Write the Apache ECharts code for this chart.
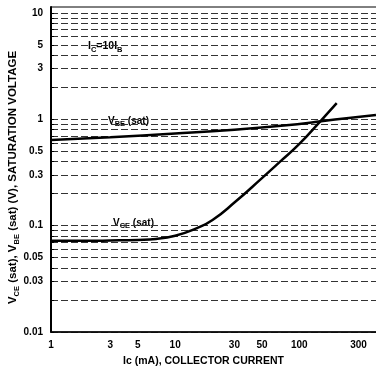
<!DOCTYPE html>
<html>
<head>
<meta charset="utf-8">
<script src="https://cdn.jsdelivr.net/npm/echarts@6/dist/echarts.min.js"></script>
<style>
html,body{margin:0;padding:0;background:#fff;}
#chart{width:376px;height:380px;}
</style>
</head>
<body>
<div id="chart"></div>
<script>
// tick labels
var xLabels = [1, 3, 5, 10, 30, 50, 100, 300];
var yLabels = [0.01, 0.03, 0.05, 0.1, 0.3, 0.5, 1, 3, 5, 10];
// horizontal grid lines (log grid 1..9 per decade)
var yGrid = [0.01, 0.02, 0.03, 0.04, 0.05, 0.06, 0.07, 0.08, 0.09,
             0.1, 0.2, 0.3, 0.4, 0.5, 0.6, 0.7, 0.8, 0.9,
             1, 2, 3, 4, 5, 6, 7, 8, 9, 10];

// VBE (sat) curve
var icVbe = [1, 3, 10, 30, 100, 150, 250, 414];
var vbe = [0.64, 0.68, 0.735, 0.80, 0.905, 0.96, 1.03, 1.10];

// VCE (sat) curve
var icVce = [1, 2, 3, 5, 7, 10, 15, 20, 30, 50, 70, 100, 150, 200];
var vce = [0.072, 0.072, 0.0725, 0.0735, 0.075, 0.0805, 0.095, 0.113, 0.165, 0.28, 0.40, 0.587, 0.98, 1.42];

function pairs(xs, ys) {
    var out = [];
    for (var i = 0; i < xs.length; i++) out.push([xs[i], ys[i]]);
    return out;
}

var font = 'Liberation Sans, Arial, sans-serif';
var sub = { fontSize: 7.5, fontWeight: 'bold', fontFamily: font, color: '#000', verticalAlign: 'bottom', padding: [0, 0, -2, 0] };

var chart = echarts.init(document.getElementById('chart'));
chart.setOption({
    backgroundColor: '#fff',
    animation: false,
    grid: {
        left: 51, right: -2, top: 7, bottom: 48,
        outerBoundsMode: 'none',
        show: true, borderColor: '#000', borderWidth: 1
    },
    xAxis: {
        type: 'log',
        min: 1,
        max: 430,
        name: 'Ic (mA), COLLECTOR CURRENT',
        nameLocation: 'middle',
        nameGap: 24,
        nameMoveOverlap: false,
        nameTextStyle: { fontSize: 10.5, fontWeight: 'bold', fontFamily: font, color: '#000', padding: [0, 22, 0, 0] },
        axisLine: { lineStyle: { color: '#000', width: 1.5 } },
        axisTick: { show: false },
        splitLine: { show: false },
        axisLabel: {
            customValues: xLabels,
            color: '#000', fontSize: 10, fontWeight: 'bold', fontFamily: font, margin: 8
        }
    },
    yAxis: {
        type: 'log',
        min: 0.01,
        max: 11.4,
        name: 'V{s|CE} (sat), V{s|BE} (sat) (V), SATURATION VOLTAGE',
        nameLocation: 'middle',
        nameGap: 32,
        nameMoveOverlap: false,
        nameTextStyle: { fontSize: 11.5, fontWeight: 'bold', fontFamily: font, color: '#000', padding: [0, 16, 0, 0], rich: { s: sub } },
        axisLine: { lineStyle: { color: '#000', width: 2 } },
        axisTick: { customValues: yGrid, inside: true, length: 3, lineStyle: { color: '#000' } },
        splitLine: { show: true, lineStyle: { color: '#333', type: [7, 3], width: 1 } },
        axisLabel: {
            customValues: yLabels,
            color: '#000', fontSize: 10, fontWeight: 'bold', fontFamily: font, margin: 8
        }
    },
    graphic: [
        { type: 'text', left: 88, top: 41, style: { text: 'I{s|C}=10I{s|B}', rich: { s: sub }, font: 'bold 10.5px ' + font, fill: '#000', backgroundColor: '#fff' } },
        { type: 'text', left: 108, top: 116, style: { text: 'V{s|BE} (sat)', rich: { s: sub }, font: 'bold 10px ' + font, fill: '#000', backgroundColor: '#fff' } },
        { type: 'text', left: 113, top: 218, style: { text: 'V{s|CE} (sat)', rich: { s: sub }, font: 'bold 10px ' + font, fill: '#000', backgroundColor: '#fff' } }
    ],
    series: [
        {
            name: 'VBE (sat)',
            type: 'line',
            data: pairs(icVbe, vbe),
            smooth: 0.5,
            symbol: 'none',
            lineStyle: { color: '#000', width: 2.5 }
        },
        {
            name: 'VCE (sat)',
            type: 'line',
            data: pairs(icVce, vce),
            smooth: 0.5,
            symbol: 'none',
            lineStyle: { color: '#000', width: 2.5 }
        }
    ]
});
</script>
</body>
</html>
